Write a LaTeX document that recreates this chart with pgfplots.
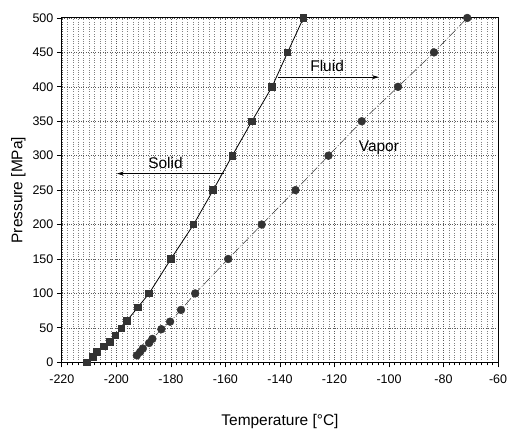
\documentclass[border=0pt]{standalone}
\usepackage{pgfplots}
\pgfplotsset{compat=1.18}
\usepackage{fontspec}
\setmainfont{Liberation Sans}
\usetikzlibrary{arrows.meta}

\begin{document}
\begin{tikzpicture}
\begin{axis}[
  width=437pt, height=345pt, scale only axis,
  xmin=-220, xmax=-60, ymin=0, ymax=500,
  xtick={-220,-200,...,-60}, minor x tick num=9,
  ytick={0,50,...,500},
  tick align=outside, tick pos=left,
  major tick length=5pt, minor tick length=3pt,
  grid=both,
  major grid style={dotted, black!65, line width=0.5pt},
  minor grid style={dotted, black!50, line width=0.45pt},
  axis line style={line width=1pt},
  every tick/.style={black, line width=0.8pt},
  /pgf/number format/assume math mode=true,
  ticklabel style={font=\fontsize{12.5}{14}\selectfont},
  xticklabel style={yshift=-4pt},
  label style={font=\fontsize{15.5}{18}\selectfont},
  xlabel={Temperature [°C]}, ylabel={Pressure [MPa]},
  xlabel style={yshift=-24pt},
]
% Solid (melting) line
\addplot[black, line width=0.8pt, mark=square*, mark size=3.3pt,
  mark options={fill=black!80, draw=black!80}] coordinates {
  (-210.8,0) (-208.6,8) (-207.1,15) (-204.6,23) (-202.4,30) (-200.3,39)
  (-198.2,49) (-196.2,60) (-192.1,80) (-188,100) (-180,150) (-171.7,200)
  (-164.5,250) (-157.5,300) (-150.3,350) (-142.9,400) (-137.2,450) (-131.4,500)
};
% Vapor line
\addplot[black!80, line width=0.5pt, dash pattern=on 9pt off 2pt on 1pt off 2pt,
  mark=*, mark size=3.9pt, mark options={solid, fill=black!80, draw=black!80}] coordinates {
  (-192.5,10) (-191.3,15) (-190.3,20) (-188,28) (-186.8,34) (-183.5,48)
  (-180.3,59) (-176.3,76) (-171.1,100) (-159,150) (-146.7,200) (-134.3,250)
  (-122.2,300) (-110,350) (-96.7,400) (-83.5,450) (-71.3,500)
};
\node[font=\fontsize{15.5}{18}\selectfont] at (axis cs:-182,290) {Solid};
\draw[-{Stealth[length=7pt,width=4pt]}, line width=0.6pt] (axis cs:-160.4,274) -- (axis cs:-199.8,274);
\node[font=\fontsize{15.5}{18}\selectfont] at (axis cs:-122.7,430) {Fluid};
\draw[-{Stealth[length=7pt,width=4pt]}, line width=0.6pt] (axis cs:-140.6,414) -- (axis cs:-103.7,414);
\node[font=\fontsize{15.5}{18}\selectfont] at (axis cs:-103.7,312) {Vapor};
\end{axis}
\pgfresetboundingbox
\path[use as bounding box] ([shift={(-62pt,-68pt)}]current axis.south west)
  rectangle ([shift={(14pt,18pt)}]current axis.north east);
\end{tikzpicture}
\end{document}
